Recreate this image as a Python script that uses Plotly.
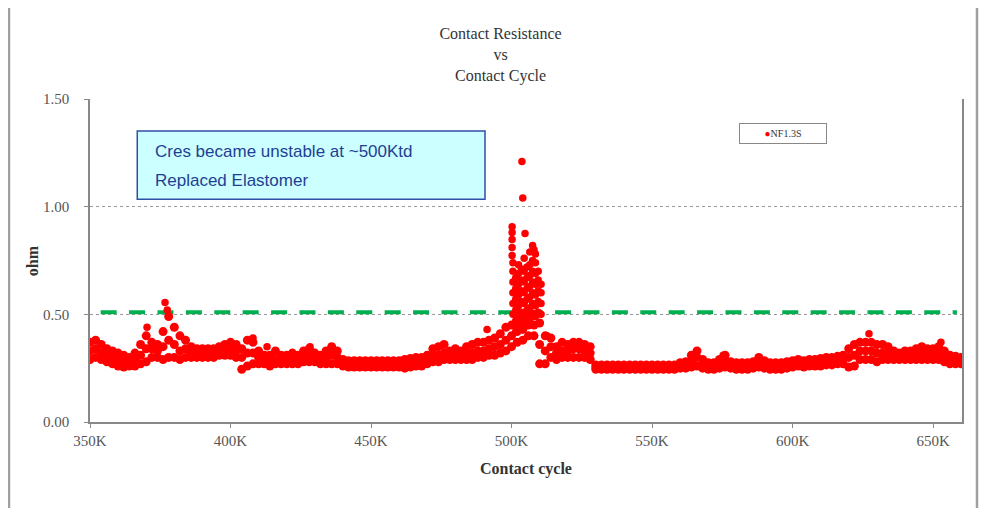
import plotly.graph_objects as go

# ---------------- data ----------------
cycle_k = list(range(350, 662, 2))  # contact cycles in thousands, sampled every 2K

cres_low = [
    0.29, 0.30, 0.29, 0.28, 0.27, 0.26, 0.255, 0.26, 0.26, 0.27,      # 350-368
    0.28, 0.30, 0.30, 0.29, 0.30, 0.30, 0.29, 0.30, 0.30, 0.30,       # 370-388
    0.30, 0.30, 0.30, 0.31, 0.31, 0.31, 0.30, 0.245, 0.26, 0.27,      # 390-408
    0.27, 0.27, 0.26, 0.27, 0.27, 0.27, 0.27, 0.27, 0.28, 0.28,       # 410-428
    0.28, 0.27, 0.27, 0.27, 0.27, 0.26, 0.255, 0.255, 0.255, 0.255,   # 430-448
    0.255, 0.255, 0.255, 0.255, 0.255, 0.255, 0.25, 0.255, 0.26, 0.26,  # 450-468
    0.27, 0.28, 0.28, 0.29, 0.29, 0.29, 0.29, 0.29, 0.29, 0.30,       # 470-488
    0.30, 0.31, 0.31, 0.32, 0.33, 0.35, 0.37, 0.38, 0.40, 0.40,       # 490-508
    0.27, 0.27, 0.30, 0.29, 0.30, 0.30, 0.30, 0.30, 0.30, 0.29,       # 510-528
    0.245, 0.245, 0.245, 0.245, 0.245, 0.245, 0.245, 0.245, 0.245, 0.245,  # 530-548
    0.245, 0.245, 0.245, 0.245, 0.245, 0.25, 0.25, 0.255, 0.26, 0.25,  # 550-568
    0.245, 0.245, 0.25, 0.255, 0.25, 0.245, 0.245, 0.245, 0.25, 0.255,  # 570-588
    0.25, 0.245, 0.245, 0.245, 0.25, 0.255, 0.26, 0.255, 0.26, 0.26,  # 590-608
    0.26, 0.265, 0.265, 0.27, 0.27, 0.255, 0.26, 0.29, 0.29, 0.29,    # 610-628
    0.28, 0.29, 0.29, 0.29, 0.29, 0.29, 0.29, 0.29, 0.29, 0.29,       # 630-648
    0.29, 0.29, 0.28, 0.27, 0.27, 0.27,                               # 650-660
]

cres_mid = [
    0.33, 0.34, 0.32, 0.31, 0.30, 0.29, 0.28, 0.28, 0.29, 0.31,
    0.34, 0.34, 0.33, 0.35, 0.38, 0.36, 0.33, 0.34, 0.32, 0.32,
    0.32, 0.32, 0.32, 0.33, 0.34, 0.34, 0.33, 0.30, 0.32, 0.32,
    0.30, 0.29, 0.28, 0.29, 0.29, 0.29, 0.29, 0.29, 0.30, 0.31,
    0.30, 0.29, 0.30, 0.31, 0.30, 0.275, 0.27, 0.27, 0.27, 0.27,
    0.27, 0.27, 0.27, 0.27, 0.27, 0.27, 0.27, 0.275, 0.28, 0.28,
    0.29, 0.31, 0.31, 0.32, 0.31, 0.31, 0.31, 0.32, 0.32, 0.33,
    0.33, 0.34, 0.35, 0.36, 0.38, 0.40, 0.42, 0.43, 0.45, 0.45,
    0.36, 0.33, 0.35, 0.32, 0.33, 0.33, 0.34, 0.34, 0.33, 0.32,
    0.255, 0.255, 0.255, 0.255, 0.255, 0.255, 0.255, 0.255, 0.255, 0.255,
    0.255, 0.255, 0.255, 0.255, 0.255, 0.26, 0.265, 0.28, 0.30, 0.27,
    0.26, 0.26, 0.27, 0.28, 0.265, 0.26, 0.26, 0.26, 0.265, 0.28,
    0.27, 0.26, 0.26, 0.26, 0.265, 0.27, 0.275, 0.27, 0.275, 0.275,
    0.28, 0.28, 0.285, 0.285, 0.29, 0.30, 0.31, 0.33, 0.33, 0.33,
    0.32, 0.32, 0.32, 0.31, 0.305, 0.31, 0.31, 0.31, 0.32, 0.31,
    0.315, 0.32, 0.30, 0.29, 0.285, 0.285,
]

cres_high = [
    0.37, 0.38, 0.36, 0.34, 0.33, 0.32, 0.31, 0.30, 0.32, 0.36,
    0.40, 0.37, 0.36, 0.42, 0.49, 0.44, 0.40, 0.38, 0.35, 0.34,
    0.34, 0.34, 0.34, 0.35, 0.36, 0.37, 0.36, 0.34, 0.38, 0.37,
    0.33, 0.31, 0.31, 0.33, 0.31, 0.31, 0.32, 0.31, 0.33, 0.34,
    0.32, 0.31, 0.33, 0.35, 0.33, 0.29, 0.285, 0.285, 0.285, 0.285,
    0.285, 0.285, 0.285, 0.285, 0.285, 0.285, 0.29, 0.295, 0.30, 0.30,
    0.31, 0.34, 0.35, 0.36, 0.33, 0.34, 0.33, 0.35, 0.36, 0.37,
    0.37, 0.38, 0.39, 0.41, 0.44, 0.45, 0.47, 0.48, 0.50, 0.50,
    0.46, 0.40, 0.39, 0.35, 0.37, 0.36, 0.37, 0.37, 0.36, 0.35,
    0.265, 0.265, 0.265, 0.265, 0.265, 0.265, 0.265, 0.265, 0.265, 0.265,
    0.265, 0.265, 0.265, 0.265, 0.265, 0.275, 0.28, 0.31, 0.33, 0.29,
    0.275, 0.275, 0.29, 0.31, 0.28, 0.275, 0.275, 0.275, 0.28, 0.30,
    0.285, 0.275, 0.275, 0.275, 0.28, 0.285, 0.29, 0.285, 0.29, 0.29,
    0.295, 0.30, 0.30, 0.305, 0.31, 0.34, 0.36, 0.37, 0.37, 0.37,
    0.36, 0.36, 0.35, 0.33, 0.32, 0.33, 0.33, 0.34, 0.35, 0.34,
    0.34, 0.35, 0.33, 0.31, 0.305, 0.30,
]

# isolated points above the band
outlier_k = [370.3, 376.7, 377.5, 408.0, 413.0, 428.3, 436.0, 491.3,
             500.2, 500.2, 500.2, 500.2, 500.2, 503.7, 504.0, 504.8,
             507.5, 508.0, 508.5, 512.6, 575.3, 627.2, 652.8]
outlier_ohm = [0.44, 0.555, 0.52, 0.39, 0.35, 0.35, 0.35, 0.43,
               0.907, 0.88, 0.847, 0.81, 0.773, 1.21, 1.04, 0.875,
               0.82, 0.80, 0.78, 0.40, 0.31, 0.41, 0.37]

# dense burst around 500K
burst_k = ([500.5] * 7 + [501.5] * 6 + [502.5] * 7 + [503.5] * 6 + [504.5] * 7
           + [505.5] * 6 + [506.5] * 7 + [507.5] * 6 + [508.5] * 6 + [509.5] * 5 + [510.5] * 4)
burst_ohm = [0.45, 0.50, 0.55, 0.60, 0.65, 0.70, 0.74,
             0.42, 0.47, 0.52, 0.57, 0.62, 0.67,
             0.44, 0.49, 0.54, 0.59, 0.64, 0.69, 0.73,
             0.46, 0.51, 0.56, 0.61, 0.66, 0.71,
             0.45, 0.50, 0.55, 0.60, 0.65, 0.70, 0.76,
             0.47, 0.52, 0.57, 0.62, 0.67, 0.72,
             0.48, 0.53, 0.58, 0.63, 0.68, 0.73, 0.79,
             0.50, 0.55, 0.60, 0.65, 0.70, 0.75,
             0.49, 0.54, 0.59, 0.64, 0.69, 0.74,
             0.51, 0.56, 0.61, 0.66, 0.70,
             0.50, 0.55, 0.60, 0.64]

limit_k = [353.8, 658.5]
limit_ohm = [0.51, 0.51]

x_ticks = [350, 400, 450, 500, 550, 600, 650]
x_tick_text = ["350K", "400K", "450K", "500K", "550K", "600K", "650K"]
y_ticks = [0.0, 0.5, 1.0, 1.5]
y_tick_text = ["0.00", "0.50", "1.00", "1.50"]

# ---------------- figure ----------------
SERIF = "Liberation Serif, Times New Roman, serif"
SANS = "Liberation Sans, Arial, sans-serif"

band_x = cycle_k + cycle_k + cycle_k
band_y = cres_low + cres_mid + cres_high
extra_x = outlier_k + burst_k
extra_y = outlier_ohm + burst_ohm
all_x = band_x + extra_x
all_y = band_y + extra_y
sizes = [9] * len(band_x) + [7.5] * len(extra_x)

fig = go.Figure()
fig.add_trace(go.Scatter(
    x=limit_k, y=limit_ohm, mode="lines", showlegend=False,
    line=dict(color="#00B050", width=4, dash="16px,12.4px"), hoverinfo="skip"))
fig.add_trace(go.Scatter(
    x=all_x, y=all_y, mode="markers", name="NF1.3S", showlegend=False,
    marker=dict(color="#FF0000", size=sizes, opacity=1, line=dict(width=0))))

# page is offset by the 8px body margin: figure 985x500 placed at (8, 8)
fig.update_layout(
    width=985, height=500,
    margin=dict(l=82, r=31, t=91, b=86),
    paper_bgcolor="white", plot_bgcolor="white",
    title=dict(text="Contact Resistance<br>vs<br>Contact Cycle",
               x=0.5, xref="container", xanchor="center",
               y=0.938, yref="container", yanchor="top",
               font=dict(family=SERIF, size=16, color="#333333")),
    showlegend=False,
    xaxis=dict(range=[350, 660.3], tickvals=x_ticks, ticktext=x_tick_text,
               showgrid=False, zeroline=False,
               showline=True, linecolor="#888888", linewidth=1.5, mirror=False,
               ticks="outside", ticklen=4, tickcolor="#888888",
               ticklabelstandoff=0,
               tickfont=dict(family=SERIF, size=15, color="#555555")),
    yaxis=dict(range=[0, 1.5], tickvals=y_ticks, ticktext=y_tick_text,
               showgrid=True, gridcolor="#999999", griddash="dot", gridwidth=1,
               zeroline=False,
               showline=True, linecolor="#888888", linewidth=1.5, mirror=True,
               ticks="outside", ticklen=4, tickcolor="#888888",
               ticklabelstandoff=12,
               tickfont=dict(family=SERIF, size=15, color="#555555")),
    shapes=[
        # outer frame
        dict(type="rect", xref="paper", yref="paper",
             x0=-0.0929, x1=1.0172, y0=-0.303, y1=1.2895,
             line=dict(color="#A0A0A0", width=2.5), fillcolor="rgba(0,0,0,0)", layer="below"),
        # note box
        dict(type="rect", xref="paper", yref="paper",
             x0=0.0542, x1=0.453, y0=0.690, y1=0.901,
             line=dict(color="#2F4FA8", width=1.5), fillcolor="#CCFFFF", layer="above"),
    ],
    annotations=[
        dict(text="Cres became unstable at ~500Ktd", xref="paper", yref="paper",
             x=0.0719, y=0.839, xanchor="left", yanchor="middle", showarrow=False,
             font=dict(family=SANS, size=17, color="#1F3E94")),
        dict(text="Replaced Elastomer", xref="paper", yref="paper",
             x=0.0719, y=0.749, xanchor="left", yanchor="middle", showarrow=False,
             font=dict(family=SANS, size=17, color="#1F3E94")),
        dict(text="<b>ohm</b>", xref="paper", yref="paper",
             x=-0.0665, y=0.498, xanchor="center", yanchor="middle", textangle=-90,
             showarrow=False, font=dict(family=SERIF, size=16, color="#333333")),
        dict(text="<b>Contact cycle</b>", xref="paper", yref="paper",
             x=0.5, y=-0.1455, xanchor="center", yanchor="middle",
             showarrow=False, font=dict(family=SERIF, size=16, color="#333333")),
        # legend box
        dict(text="<span style='color:#FF0000'>●</span>NF1.3S", xref="paper", yref="paper",
             x=0.795, y=0.892, xanchor="center", yanchor="middle", showarrow=False,
             width=80, height=13, align="center", borderpad=3,
             bgcolor="white", bordercolor="#888888", borderwidth=1,
             font=dict(family=SERIF, size=10, color="#333333")),
    ],
)

fig.write_html("out.html")
